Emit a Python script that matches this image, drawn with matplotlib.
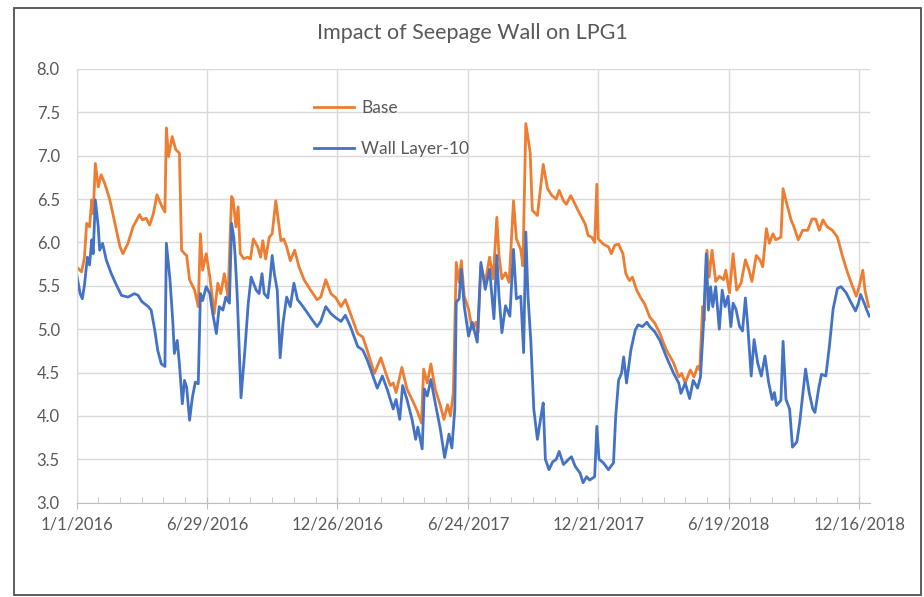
import matplotlib
matplotlib.use('Agg')
from matplotlib import pyplot as plt
from matplotlib.patches import Rectangle
import pandas as pd

# Datos (dias desde 1/1/2016, nivel)
base_days = [0, 7, 11, 14, 18, 21, 23, 26, 30, 34, 39, 46, 53, 60, 64, 71, 78, 87, 91, 96,
             101, 106, 111, 117, 122, 124, 127, 132, 137, 142, 145, 149, 152, 156, 163, 168, 171, 174, 179, 184,
             190, 195, 199, 204, 209, 214, 216, 220, 223, 226, 231, 236, 240, 244, 250, 254, 257, 261, 266, 270,
             275, 279, 282, 286, 290, 295, 301, 307, 314, 323, 332, 337, 344, 351, 358, 365, 371, 378, 388, 395,
             401, 411, 420, 427, 433, 437, 441, 449, 456, 463, 470, 476, 479, 484, 489, 495, 502, 507, 512, 516,
             520, 524, 528, 531, 535, 541, 546, 551, 554, 558, 564, 570, 575, 580, 583, 587, 592, 597, 603, 607,
             613, 616, 620, 626, 629, 636, 644, 650, 656, 662, 666, 672, 676, 682, 688, 692, 697, 702, 706, 711,
             715, 718, 720, 727, 734, 738, 743, 748, 754, 758, 763, 767, 773, 778, 784, 791, 798, 805, 814, 824,
             831, 835, 840, 847, 852, 857, 860, 864, 866, 870, 873, 877, 882, 887, 893, 896, 901, 906, 911, 917,
             923, 928, 932, 938, 943, 947, 952, 956, 961, 965, 972, 975, 980, 986, 990, 996, 1002, 1009, 1015, 1020,
             1025, 1030, 1036, 1043, 1050, 1057, 1064, 1071, 1076, 1080, 1085, 1088, 1093]
base_vals = [5.72, 5.66, 5.83, 6.22, 6.18, 6.49, 6.33, 6.91, 6.64, 6.78, 6.68, 6.49, 6.22, 5.95, 5.87, 5.99, 6.18, 6.32, 6.26, 6.28,
             6.20, 6.33, 6.55, 6.43, 6.35, 7.32, 6.99, 7.22, 7.07, 7.03, 5.91, 5.87, 5.85, 5.57, 5.45, 5.26, 6.10, 5.68, 5.87, 5.60,
             5.18, 5.53, 5.41, 5.64, 5.37, 6.53, 6.50, 6.18, 6.41, 5.87, 5.81, 5.83, 5.81, 6.04, 5.95, 5.83, 6.02, 5.81, 6.06, 6.10,
             6.48, 6.22, 6.02, 6.04, 5.95, 5.79, 5.91, 5.72, 5.57, 5.45, 5.34, 5.37, 5.57, 5.41, 5.36, 5.26, 5.34, 5.18, 4.95, 4.91,
             4.76, 4.49, 4.67, 4.49, 4.35, 4.38, 4.27, 4.56, 4.31, 4.19, 4.06, 3.92, 4.54, 4.38, 4.60, 4.31, 4.12, 3.96, 4.13, 4.00,
             4.27, 5.77, 5.54, 5.79, 5.38, 5.23, 5.00, 5.08, 4.96, 5.73, 5.54, 5.83, 5.58, 6.29, 5.85, 5.58, 5.65, 5.54, 6.48, 6.04,
             5.92, 5.73, 7.37, 7.04, 6.37, 6.31, 6.90, 6.62, 6.54, 6.50, 6.60, 6.48, 6.44, 6.54, 6.44, 6.37, 6.29, 6.21, 6.08, 6.06,
             6.00, 6.67, 6.04, 5.98, 5.95, 5.87, 5.97, 5.98, 5.87, 5.64, 5.56, 5.60, 5.45, 5.37, 5.29, 5.14, 5.07, 4.95, 4.76, 4.61,
             4.45, 4.49, 4.38, 4.53, 4.45, 4.57, 4.53, 5.26, 5.10, 5.91, 5.60, 5.91, 5.55, 5.61, 5.57, 5.68, 5.42, 5.87, 5.45, 5.53,
             5.80, 5.68, 5.55, 5.85, 5.80, 5.72, 6.16, 5.99, 6.10, 6.03, 6.06, 6.62, 6.45, 6.26, 6.18, 6.03, 6.14, 6.14, 6.27, 6.27,
             6.14, 6.26, 6.18, 6.14, 6.06, 5.84, 5.65, 5.49, 5.38, 5.49, 5.68, 5.45, 5.26]

wall_days = [0, 5, 8, 11, 15, 18, 21, 23, 26, 30, 32, 36, 41, 48, 55, 62, 71, 80, 85, 90,
             99, 103, 108, 112, 117, 122, 124, 129, 133, 135, 139, 142, 146, 149, 152, 156, 160, 164, 168, 171,
             174, 179, 184, 188, 193, 197, 202, 206, 211, 214, 217, 219, 222, 227, 232, 237, 241, 248, 252, 256,
             259, 264, 267, 270, 273, 277, 281, 285, 290, 295, 300, 305, 309, 316, 325, 332, 337, 344, 351, 358,
             365, 371, 378, 388, 395, 401, 415, 422, 429, 437, 441, 446, 450, 456, 463, 468, 471, 477, 480, 484,
             489, 495, 502, 508, 514, 518, 522, 524, 528, 531, 535, 541, 546, 553, 558, 564, 570, 576, 580, 583,
             587, 592, 598, 603, 607, 613, 617, 620, 623, 627, 631, 636, 641, 644, 647, 652, 657, 662, 666, 672,
             679, 683, 688, 695, 699, 704, 708, 715, 718, 721, 727, 734, 741, 744, 748, 752, 755, 759, 765, 771,
             775, 781, 787, 791, 798, 805, 814, 824, 831, 834, 840, 846, 851, 857, 861, 865, 869, 872, 875, 878,
             882, 887, 891, 895, 899, 903, 906, 910, 915, 919, 923, 926, 931, 935, 940, 945, 950, 955, 960, 963,
             966, 972, 975, 979, 984, 988, 994, 998, 1002, 1006, 1011, 1016, 1019, 1024, 1028, 1034, 1039, 1044, 1050, 1055,
             1062, 1068, 1075, 1079, 1082, 1087, 1090, 1094]
wall_vals = [5.64, 5.41, 5.35, 5.51, 5.83, 5.74, 6.03, 5.87, 6.49, 6.18, 5.91, 5.99, 5.80, 5.64, 5.51, 5.39, 5.37, 5.41, 5.39, 5.32,
             5.26, 5.22, 4.99, 4.76, 4.60, 4.57, 5.99, 5.57, 5.07, 4.72, 4.87, 4.60, 4.14, 4.41, 4.33, 3.95, 4.22, 4.39, 4.37, 5.41,
             5.33, 5.49, 5.41, 5.18, 4.95, 5.26, 5.22, 5.37, 5.30, 6.22, 6.06, 5.83, 5.34, 4.21, 4.72, 5.30, 5.60, 5.45, 5.41, 5.64,
             5.41, 5.36, 5.57, 5.85, 5.64, 5.45, 4.67, 5.07, 5.37, 5.26, 5.53, 5.34, 5.30, 5.22, 5.11, 5.03, 5.09, 5.26, 5.18, 5.13,
             5.09, 5.16, 5.03, 4.80, 4.76, 4.65, 4.32, 4.46, 4.30, 4.08, 4.19, 3.96, 4.35, 4.19, 3.96, 3.73, 3.87, 3.62, 4.31, 4.23,
             4.42, 4.15, 3.85, 3.52, 3.79, 3.63, 4.08, 5.31, 5.35, 5.69, 5.27, 4.92, 5.08, 4.85, 5.77, 5.46, 5.69, 5.12, 5.85, 5.38,
             4.96, 5.27, 5.15, 5.92, 5.35, 5.38, 4.73, 6.12, 5.38, 4.85, 4.08, 3.73, 4.00, 4.15, 3.50, 3.38, 3.47, 3.50, 3.59, 3.44,
             3.50, 3.53, 3.42, 3.34, 3.23, 3.30, 3.26, 3.30, 3.88, 3.50, 3.46, 3.38, 3.46, 3.99, 4.41, 4.49, 4.68, 4.38, 4.76, 4.99,
             5.05, 5.03, 5.08, 5.03, 4.97, 4.87, 4.68, 4.49, 4.38, 4.26, 4.38, 4.20, 4.41, 4.32, 4.45, 5.03, 5.87, 5.22, 5.49, 5.26,
             5.49, 5.00, 5.45, 5.26, 5.38, 5.03, 5.30, 5.23, 5.03, 4.98, 5.36, 5.07, 4.46, 4.88, 4.61, 4.46, 4.69, 4.39, 4.19, 4.27,
             4.12, 4.18, 4.86, 4.19, 4.08, 3.64, 3.70, 3.93, 4.23, 4.54, 4.27, 4.08, 4.04, 4.31, 4.48, 4.46, 4.81, 5.23, 5.47, 5.49,
             5.42, 5.32, 5.21, 5.30, 5.40, 5.30, 5.23, 5.15]

series_labels = ['Base', 'Wall Layer-10']
title = 'Impact of Seepage Wall on LPG1'
start = pd.Timestamp('2016-01-01')

base_dates = start + pd.to_timedelta(base_days, unit='D')
wall_dates = start + pd.to_timedelta(wall_days, unit='D')

plt.rcParams['font.family'] = ['Lato', 'DejaVu Sans']
text_gray = '#595959'
grid_gray = '#d9d9d9'

fig = plt.figure(figsize=(9.24, 5.97), dpi=100)
ax = fig.add_axes([0.0828, 0.158, 0.8588, 0.7265])

ax.plot(base_dates, base_vals, color='#ED7D31', lw=2.0, label=series_labels[0])
ax.plot(wall_dates, wall_vals, color='#4472C4', lw=2.0, label=series_labels[1])

# ejes: fechas cada 180 dias, marcas menores cada 30
ax.set_ylim(3.0, 8.0)
ax.set_yticks([3.0 + 0.5 * i for i in range(11)])
ax.yaxis.set_major_formatter(plt.FormatStrFormatter('%.1f'))
ax.set_xlim(start, start + pd.Timedelta(days=1095))
major_dates = [start + pd.Timedelta(days=180 * i) for i in range(7)]
ax.set_xticks(major_dates)
ax.set_xticks([start + pd.Timedelta(days=30 * i) for i in range(37)], minor=True)
ax.set_xticklabels(['{}/{}/{}'.format(d.month, d.day, d.year) for d in major_dates])

ax.grid(True, axis='y', color=grid_gray, lw=1.0)
ax.grid(True, axis='x', which='major', color=grid_gray, lw=1.0)
ax.set_axisbelow(True)
for side in ['top', 'right']:
    ax.spines[side].set_visible(False)
ax.spines['left'].set_color(grid_gray)
ax.spines['bottom'].set_color('#bfbfbf')
ax.tick_params(axis='y', length=0, pad=12, labelsize=12, labelcolor=text_gray)
ax.tick_params(axis='x', which='major', direction='inout', length=8, color='#bfbfbf',
               pad=6, labelsize=12, labelcolor=text_gray)
ax.tick_params(axis='x', which='minor', direction='in', length=4, color='#bfbfbf')

fig.text(0.511, 0.944, title, ha='center', va='center', fontsize=15.5, color=text_gray)

ax.legend(loc='upper left', bbox_to_anchor=(0.340, 0.833), bbox_transform=fig.transFigure,
          frameon=False, fontsize=12.5, handlelength=2.3, handletextpad=0.4, labelspacing=1.45,
          labelcolor=text_gray, borderaxespad=0, borderpad=0)

# marco exterior
fig.patches.append(Rectangle((14 / 924, 2 / 597), 907 / 924, 587 / 597, transform=fig.transFigure,
                             fill=False, edgecolor='#505050', lw=1.3))

plt.savefig('out.png', dpi=100)
